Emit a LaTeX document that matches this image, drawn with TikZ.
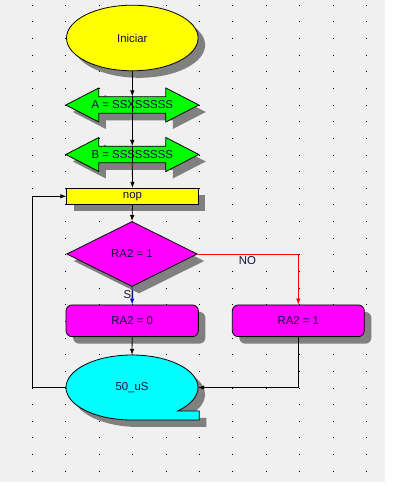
\documentclass[tikz,border=0pt]{standalone}
\usepackage{fontspec}
\setmainfont{Liberation Sans}
\usetikzlibrary{shapes.geometric,shadows,arrows.meta,calc}
\definecolor{bgc}{HTML}{F0F0F0}
\definecolor{shadc}{HTML}{808080}
\definecolor{yel}{HTML}{FFFF00}
\definecolor{grn}{HTML}{00FF00}
\definecolor{mag}{HTML}{FF00FF}
\definecolor{cyn}{HTML}{00FFFF}
\definecolor{txtc}{HTML}{101038}
\newcommand\dblpath[2]{(#1-66.5,#2) -- ++(33,17) -- ++(0,-8.7) -- ++(67,0) -- ++(0,8.7) -- ++(33,-17) -- ++(-33,-17) -- ++(0,8.7) -- ++(-67,0) -- ++(0,-8.7) -- cycle}
\newcommand\delaypath[2]{(#1,#2-32.5) arc[start angle=270,end angle=-46.3,x radius=66pt,y radius=32.5pt] -- (#1+67.3,#2-23.5) -- (#1+67.3,#2-32.5) -- cycle}
\begin{document}
\begin{tikzpicture}[x=1pt,y=1pt,
  every node/.style={font=\fontsize{11.4}{13}\selectfont, text=txtc, inner sep=0pt},
  outl/.style={draw=black, line width=0.8pt},
  shad/.style={drop shadow={shadow xshift=7pt,shadow yshift=-7pt,fill=shadc,opacity=1}},
  conn/.style={line width=0.8pt,-{Latex[length=6pt,width=4.5pt]}},
  plain/.style={line width=0.8pt}]
\useasboundingbox (0,0) rectangle (392,490);
\fill[white] (0,0) rectangle (392,490);
\fill[bgc] (0,8) rectangle (385,490);
\foreach \i in {0,...,10} \foreach \j in {0,...,28} \fill[black] ({32.3+33.44*\i-0.5},{484.7-16.64*\j-0.5}) rectangle ++(1,1);
% start
\node[ellipse, outl, fill=yel, shad, minimum width=131.6pt, minimum height=65.6pt] (ini) at (132.3,452) {Iniciar};
% double arrows
\fill[shadc] \dblpath{139.3}{378};
\filldraw[fill=grn, outl] \dblpath{132.3}{385};
\node[minimum width=133pt, minimum height=16.6pt] (A) at (132.3,385) {A = SSXSSSSS};
\fill[shadc] \dblpath{139.3}{328.5};
\filldraw[fill=grn, outl] \dblpath{132.3}{335.5};
\node[minimum width=133pt, minimum height=16.6pt] (B) at (132.3,335.5) {B = SSSSSSSS};
% nop
\node[rectangle, outl, fill=yel, shad, minimum width=131.6pt, minimum height=16pt] (nop) at (132.5,293.7) {nop};
% decision
\node[diamond, outl, fill=mag, shad, minimum width=130.6pt, minimum height=65pt] (dec) at (132,236) {RA2 = 1};
% boxes
\node[rectangle, rounded corners=6pt, outl, fill=mag, shad, minimum width=132.3pt, minimum height=31.7pt] (ra0) at (132.2,169.2) {RA2 = 0};
\node[rectangle, rounded corners=6pt, outl, fill=mag, shad, minimum width=132pt, minimum height=31.7pt] (ra1) at (298.3,169.2) {RA2 = 1};
% delay
\fill[shadc] \delaypath{139}{95.5};
\filldraw[fill=cyn, outl] \delaypath{132}{102.5};
\node[ellipse, minimum width=132pt, minimum height=65pt] (dly) at (132,102.5) {50\_uS};
% connectors
\draw[conn] (ini.south) -- (A.north);
\draw[plain] (A.north) -- (A.south);
\draw[conn] (A.south) -- (B.north);
\draw[plain] (B.north) -- (B.south);
\draw[conn] (B.south) -- (nop.north);
\draw[conn] (nop.south) -- (dec.north);
\draw[conn, blue] (dec.south) -- (ra0.north);
\draw[conn, red] (dec.east) -- (dec.east -| ra1.north) -- (ra1.north);
\draw[conn] (ra0.south) -- (dly.north);
\draw[conn] (ra1.south) -- (ra1.south |- dly.east) -- (dly.east);
\draw[conn] (dly.west) -- ++(-33.3,0) |- (nop.west);
% labels
\node (si) at (129,195.5) {SI};
\node (no) at (247.5,229.5) {NO};
\end{tikzpicture}
\end{document}
